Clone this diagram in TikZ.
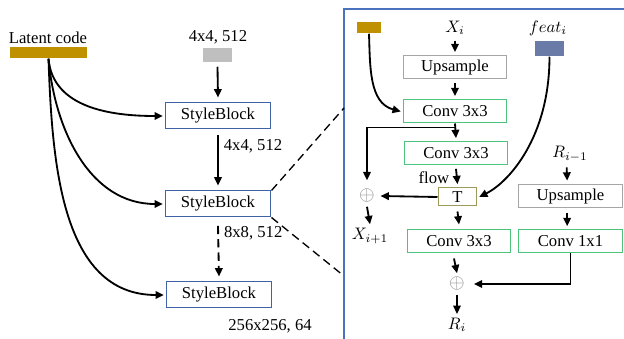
\documentclass[tikz,border=0pt]{standalone}
\usepackage{fontspec}
\setmainfont{Liberation Serif}
\usetikzlibrary{arrows.meta, positioning, calc}
\definecolor{cgold}{HTML}{BF9000}
\definecolor{clight}{HTML}{BFBFBF}
\definecolor{cnavy}{HTML}{4063A6}
\definecolor{cpanel}{HTML}{4A72BE}
\definecolor{cgreen}{HTML}{4CC47E}
\definecolor{colive}{HTML}{9C9A5A}
\definecolor{cslate}{HTML}{6A7BA8}
\definecolor{cgrey}{HTML}{A6A6A6}
\tikzset{
  every picture/.style={line width=0.9pt},
  box/.style={draw=#1, line width=0.6pt, fill=white, inner sep=0pt, minimum height=13.8pt},
  box/.default=cgrey,
  bar/.style={fill=#1, inner sep=0pt},
  arrow/.style={-{Triangle[length=5pt, width=4.5pt]}, draw=black, line width=1.1pt},
  sum/.style={text=black!45, inner sep=0pt, font=\large},
  lbl/.style={inner sep=1pt},
}
\begin{document}
\begin{tikzpicture}[x=0.6pt, y=-0.6pt]
  \useasboundingbox (0,0) rectangle (624,339);
  % left: generator
  \node[lbl] (lat) at (48,38) {Latent code};
  \node[bar=cgold, minimum width=46.2pt, minimum height=6.6pt] (latbar) at (48.5,52.5) {};
  \node[lbl] (cin) at (218,37) {4x4, 512};
  \node[bar=clight, minimum width=17.4pt, minimum height=8.4pt] (const) at (217.5,55) {};
  \node[box=cnavy, minimum width=63.6pt, minimum height=15.6pt] (sb1) at (218,116) {StyleBlock};
  \node[box=cnavy, minimum width=63.6pt, minimum height=15.6pt] (sb2) at (218,204) {StyleBlock};
  \node[box=cnavy, minimum width=63.6pt, minimum height=15.6pt] (sb3) at (219,295) {StyleBlock};
  \draw[arrow] ([yshift=-2.4pt]const.south) -- ([yshift=3pt]sb1.north);
  \draw[arrow] ([yshift=-3.6pt]sb1.south) -- node[lbl, right=2pt, pos=0.22] {4x4, 512} ([yshift=3pt]sb2.north);
  \draw[arrow, dashed, dash pattern=on 5pt off 3pt] ([yshift=-5pt]sb2.south) -- node[lbl, right=2pt, pos=0.15] {8x8, 512} ([yshift=3pt]sb3.north);
  \node[lbl, anchor=west] (res) at (226,326) {256x256, 64};
  \draw[arrow] (latbar.south) to[out=-85, in=180] ([xshift=-1pt]sb1.west);
  \draw[arrow] (latbar.south) to[out=-85, in=180] ([xshift=-1pt]sb2.west);
  \draw[arrow] (latbar.south) to[out=-88, in=180] ([xshift=-1pt]sb3.west);
  % zoomed panel
  \draw[cpanel, line width=0.7pt] (630,9) -- (344,9) -- (344,345);
  \coordinate (pa) at (344,108);
  \coordinate (pb) at (344,276);
  \draw[dashed, dash pattern=on 5pt off 3pt, line width=0.8pt] (sb2.north east) -- (pa);
  \draw[dashed, dash pattern=on 5pt off 3pt, line width=0.8pt] (sb2.south east) -- (pb);
  \node[bar=cgold, minimum width=14.4pt, minimum height=6.6pt] (wbar) at (369,27.5) {};
  \node[lbl] (xi) at (455,28) {$X_i$};
  \node[lbl] (feat) at (548,28) {$feat_i$};
  \node[bar=cslate, minimum width=17.4pt, minimum height=9pt] (fbar) at (549.5,48.5) {};
  \node[box=cgrey, minimum width=62.4pt] (up1) at (455,67.5) {Upsample};
  \node[box=cgreen, minimum width=62.4pt] (cv1) at (455,111.5) {Conv 3x3};
  \node[box=cgreen, minimum width=62.4pt] (cv2) at (456,153.5) {Conv 3x3};
  \node[box=colive, minimum width=23.4pt, minimum height=10.8pt] (tw) at (457.5,197) {T};
  \node[box=cgreen, minimum width=62.4pt] (cv3) at (459,241.5) {Conv 3x3};
  \node[sum] (s1) at (367,196) {$\oplus$};
  \node[lbl] (xn) at (370,236) {$X_{i+1}$};
  \node[sum] (s2) at (457,284) {$\oplus$};
  \node[lbl] (ri) at (457,325) {$R_i$};
  \node[lbl] (rp) at (570,154) {$R_{i-1}$};
  \node[box=cgrey, minimum width=63pt] (up2) at (570.5,196) {Upsample};
  \node[box=cgreen, minimum width=63pt] (cv4) at (570.5,241.5) {Conv 1x1};
  \draw[arrow] ([yshift=-2pt]xi.south) -- ([yshift=2pt]up1.north);
  \draw[arrow] ([yshift=-2pt]up1.south) -- ([yshift=2pt]cv1.north);
  \draw[arrow] (wbar.south) to[out=-88, in=165] ([xshift=-1pt]cv1.west);
  \draw[arrow] (cv1.south) -- ([yshift=2pt]cv2.north);
  \draw[arrow] ($(cv1.south)+(0,4)$) -| ([yshift=5pt]s1.north);
  \draw[arrow] ([yshift=-2pt]cv2.south) -- node[lbl, left=3pt, pos=0.55] {flow} ([yshift=2pt]tw.north);
  \draw[arrow] (fbar.south) .. controls +(0,80) and +(30,-15) .. ([xshift=1pt]tw.east);
  \draw[arrow] (tw.west) -- ([xshift=3pt]s1.east);
  \draw[arrow] ([yshift=-2pt]s1.south) -- ([yshift=1pt]xn.north);
  \draw[arrow] ([yshift=-3pt]tw.south) -- ([yshift=3pt]cv3.north);
  \draw[arrow] ([xshift=-3pt, yshift=-3pt]cv3.south) -- ([yshift=2pt]s2.north);
  \draw[arrow] ([yshift=-2pt]s2.south) -- ([yshift=1pt]ri.north);
  \draw[arrow] ([xshift=-2pt, yshift=-2pt]rp.south) -- ([xshift=-2pt, yshift=2pt]up2.north);
  \draw[arrow] ([xshift=-2pt, yshift=-3pt]up2.south) -- ([xshift=-2pt, yshift=2pt]cv4.north);
  \draw[arrow] (cv4.south) |- ([xshift=5pt]s2.east);
\end{tikzpicture}
\end{document}
